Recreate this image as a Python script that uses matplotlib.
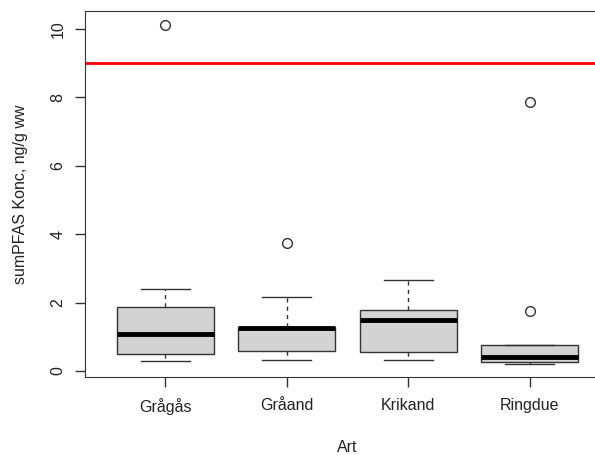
import matplotlib
matplotlib.use("Agg")
import matplotlib.pyplot as plt

plt.rcParams['font.family'] = ['Liberation Sans', 'DejaVu Sans']

# ---- data (box stats per species)
species = ["Grågås", "Gråand", "Krikand", "Ringdue"]
q1 = [0.48, 0.58, 0.54, 0.26]
med = [1.07, 1.25, 1.48, 0.41]
q3 = [1.86, 1.29, 1.79, 0.77]
whis_lo = [0.29, 0.33, 0.33, 0.20]
whis_hi = [2.40, 2.17, 2.67, 0.77]
outliers = [[10.13], [3.74], [], [1.75, 7.86]]
limit = 9.0

yticks = [0, 2, 4, 6, 8, 10]

stats = [dict(label=s, q1=a, med=m, q3=b, whislo=lo, whishi=hi, fliers=f)
         for s, a, m, b, lo, hi, f in zip(species, q1, med, q3, whis_lo, whis_hi, outliers)]

fig = plt.figure(figsize=(5.95, 4.55), dpi=100)
ax = fig.add_axes([85/595, (455-377)/455, (610-85)/595, (377-11)/455])

edge = "#333333"
txt = "#222222"
fs = 11.5
ax.bxp(stats, positions=range(1, 5), widths=0.8, patch_artist=True,
       boxprops=dict(facecolor="#d3d3d3", edgecolor=edge, linewidth=1),
       medianprops=dict(color="black", linewidth=3.5, solid_capstyle="butt"),
       whiskerprops=dict(color=edge, linestyle=(0, (3, 3)), linewidth=1),
       capprops=dict(color=edge, linewidth=1),
       capwidths=0.4,
       flierprops=dict(marker="o", markerfacecolor="none", markeredgecolor=edge,
                       markersize=7, markeredgewidth=1))

ax.axhline(limit, color="red", linewidth=2)

ax.set_xlim(0.34, 4.66)
ax.set_ylim(-0.18, 10.53)
ax.set_yticks(yticks)
ax.set_yticklabels([str(v) for v in yticks], rotation=90, va="center")
ax.set_xticks(range(1, 5))
ax.set_xticklabels(species)
ax.tick_params(axis="both", length=7, width=1, color=edge, labelsize=fs,
               labelcolor=txt, pad=7)
ax.tick_params(axis="x", pad=8)
for sp in ax.spines.values():
    sp.set_color(edge)
ax.set_xlabel("Art", fontsize=fs, color=txt, labelpad=18)
ax.set_ylabel("sumPFAS Konc, ng/g ww", fontsize=fs, color=txt, labelpad=16)

fig.savefig("out.png", dpi=100)
